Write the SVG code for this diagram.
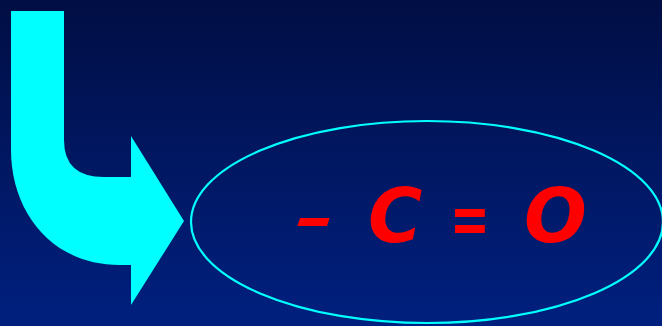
<svg xmlns="http://www.w3.org/2000/svg" width="662" height="326" viewBox="0 0 662 326">
<defs>
<linearGradient id="bg" x1="0" y1="0" x2="0" y2="1">
<stop offset="0" stop-color="#010E44"/>
<stop offset="1" stop-color="#00207F"/>
</linearGradient>
<style>
.lbl{font-family:"Comic Sans MS","DejaVu Sans",sans-serif;font-weight:bold;font-style:italic;fill:#FF0000;font-size:74px;}
.mid{text-anchor:middle;}
</style>
</defs>
<rect width="662" height="326" fill="url(#bg)"/>
<g id="arrow">
<path d="M11,11 H64 V140 Q64,177 104,177 H131 V136 L184,221 L131,305 V265 H120 C50,265 11,210 11,150 Z" fill="#00FFFF"/>
</g>
<g id="group">
<ellipse cx="427" cy="222" rx="236" ry="101" fill="none" stroke="#00FFFF" stroke-width="2.2"/>
<text class="lbl mid" transform="translate(315,221) scale(1.3,0.78)" x="0" y="22">-</text>
<text class="lbl" x="368" y="242">C</text>
<text class="lbl mid" transform="translate(470,217) scale(0.68,1)" x="0" y="26" style="font-size:70px">=</text>
<text class="lbl" x="524" y="242">O</text>
</g>
</svg>
